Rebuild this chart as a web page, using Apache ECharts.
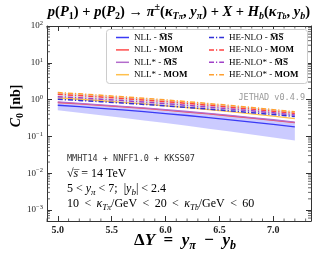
<!DOCTYPE html>
<html><head><meta charset="utf-8">
<script src="https://cdn.jsdelivr.net/npm/echarts@6/dist/echarts.min.js"></script>
<style>html,body{margin:0;padding:0;background:#fff}#c{width:322px;height:254px}</style>
</head><body><div id="c"></div>
<script>
const deltaY     = [5.0, 5.2, 5.4, 5.6, 5.8, 6.0, 6.2, 6.4, 6.6, 6.8, 7.0, 7.2];
const nllMS      = [0.700,0.640,0.579,0.522,0.469,0.417,0.369,0.324,0.282,0.245,0.211,0.181];
const nllMOM     = [0.832,0.766,0.698,0.634,0.573,0.514,0.458,0.406,0.358,0.314,0.273,0.237];
const nllStarMS  = [0.861,0.793,0.722,0.656,0.593,0.532,0.474,0.420,0.371,0.325,0.283,0.245];
const nllStarMOM = [1.112,1.021,0.929,0.841,0.759,0.678,0.604,0.532,0.468,0.408,0.354,0.305];
const heMS       = [1.019,0.948,0.875,0.805,0.740,0.673,0.611,0.550,0.493,0.441,0.391,0.345];
const heMOM      = [1.390,1.282,1.175,1.074,0.975,0.879,0.789,0.703,0.622,0.550,0.482,0.421];
const heStarMS   = [1.202,1.114,1.023,0.938,0.855,0.774,0.698,0.624,0.556,0.493,0.435,0.381];
const heStarMOM  = [1.549,1.429,1.309,1.194,1.084,0.977,0.877,0.780,0.690,0.610,0.533,0.466];
const bandLow    = [0.513,0.440,0.376,0.320,0.271,0.229,0.193,0.162,0.135,0.112,0.093,0.077];
const bandHigh   = [0.861,0.793,0.722,0.656,0.593,0.532,0.474,0.420,0.371,0.325,0.283,0.245];
const xTickLabels = [5.0, 5.5, 6.0, 6.5, 7.0];
const yTickLabels = [0.001, 0.01, 0.1, 1, 10, 100];
const seriesNames = ['NLL - MS', 'NLL - MOM', 'NLL* - MS', 'NLL* - MOM', 'HE-NLO - MS', 'HE-NLO - MOM', 'HE-NLO* - MS', 'HE-NLO* - MOM'];

const X_MIN = 4.9, X_MAX = 7.35, Y_MIN = 5e-4, Y_MAX = 100;
const SERIF = 'Liberation Serif';
const MONO = 'DejaVu Sans Mono';
const COLORS = ['#3a3af5', '#ff4d4d', '#b36ccc', '#ffc04d', '#3030d8', '#ff4040', '#a040c8', '#ffa030'];
const DASH = [5, 2, 1.2, 2];

const zip = (xs, ys) => xs.map((x, i) => [x, ys[i]]);

const yMinor = [];
for (let e = -4; e <= 1; e++) for (let k = 2; k <= 9; k++) { const v = k * Math.pow(10, e); if (v > Y_MIN && v < Y_MAX) yMinor.push(v); }
const xMinor = [];
for (let i = 49; i <= 73; i++) { if (i % 5 !== 0) xMinor.push(i / 10); }

function bandSeries(lo, hi, fill) {
  return {
    type: 'custom', silent: true, z: 1, data: [[deltaY[0], lo[0]]],
    renderItem(params, api) {
      const pts = [];
      deltaY.forEach((x, i) => pts.push(api.coord([x, hi[i]])));
      for (let i = deltaY.length - 1; i >= 0; i--) pts.push(api.coord([deltaY[i], lo[i]]));
      return { type: 'polygon', shape: { points: pts }, style: { fill: fill } };
    }
  };
}
function lineSeries(idx, ys) {
  const dashed = idx >= 4, color = COLORS[idx];
  return {
    name: seriesNames[idx], type: 'line', data: zip(deltaY, ys), symbol: 'none', z: dashed ? 4 : 3,
    lineStyle: { color, width: dashed ? 1.5 : 1.3, type: dashed ? DASH : 'solid' },
    itemStyle: { color }, silent: true
  };
}

const legRich = {
  n: { fontFamily: SERIF, fontSize: 9, color: '#333' },
  b: { fontFamily: SERIF, fontSize: 9, fontWeight: 'bold', color: '#333' }
};
function legendLabel(name) {
  const [a, b] = name.split(' - ');
  return '{n|' + a + ' - }{b|' + (b === 'MS' ? 'M\u0305S\u0305' : b) + '}';
}
const legendGraphics = [];
seriesNames.forEach((nm, i) => {
  const col = Math.floor(i / 4), row = i % 4;
  const lx = col === 0 ? 116 : 209, lw = col === 0 ? 13 : 15;
  const y = 37.5 + row * 12.4;
  legendGraphics.push({ type: 'line', z: 11, shape: { x1: lx, y1: y, x2: lx + lw, y2: y },
    style: { stroke: COLORS[i], lineWidth: 1.5, lineDash: i >= 4 ? DASH : null } });
  legendGraphics.push({ type: 'text', z: 11, x: lx + lw + 5, y: y,
    style: { text: legendLabel(nm), rich: legRich, align: 'left', verticalAlign: 'middle' } });
});

function mathRich(sz) {
  const sub = Math.round(sz * 0.68);
  return {
    i: { fontFamily: SERIF, fontStyle: 'italic', fontWeight: 'bold', fontSize: sz, lineHeight: sz + 4, color: '#111' },
    r: { fontFamily: SERIF, fontWeight: 'bold', fontSize: sz, lineHeight: sz + 4, color: '#111' },
    s: { fontFamily: SERIF, fontStyle: 'italic', fontWeight: 'bold', fontSize: sub, lineHeight: sub + 2, verticalAlign: 'bottom', color: '#111' },
    sr: { fontFamily: SERIF, fontWeight: 'bold', fontSize: sub, lineHeight: sub + 2, verticalAlign: 'bottom', color: '#111' },
    ss: { fontFamily: SERIF, fontStyle: 'italic', fontWeight: 'bold', fontSize: sub - 2, lineHeight: 4, verticalAlign: 'bottom', color: '#111' },
    p: { fontFamily: SERIF, fontWeight: 'bold', fontSize: sub, lineHeight: sub, verticalAlign: 'top', color: '#111' }
  };
}
function annRich(sz) {
  const sub = Math.round(sz * 0.72);
  return {
    i: { fontFamily: SERIF, fontStyle: 'italic', fontSize: sz, lineHeight: sz + 4, color: '#222' },
    r: { fontFamily: SERIF, fontSize: sz, lineHeight: sz + 4, color: '#222' },
    s: { fontFamily: SERIF, fontStyle: 'italic', fontSize: sub, lineHeight: sub + 2, verticalAlign: 'bottom', color: '#222' },
    ss: { fontFamily: SERIF, fontStyle: 'italic', fontSize: sub - 1.5, lineHeight: 3, verticalAlign: 'bottom', color: '#222' }
  };
}

const titleText = '{i|p}{r|(}{i|P}{sr|1}{r|) + }{i|p}{r|(}{i|P}{sr|2}{r|) \u2192 }{i|\u03c0}{p|\u00b1}{r|(}{i|\u03ba}{s|T}{ss|\u03c0}{r|, }{i|y}{s|\u03c0}{r|) + }{i|X}{r| + }{i|H}{s|b}{r|(}{i|\u03ba}{s|T}{ss|b}{r|, }{i|y}{s|b}{r|)}';
const T = '\u2009';
const tickStyle = { show: true, inside: true, length: 5, lineStyle: { color: '#333', width: 1 } };
const lineAx = { show: true, lineStyle: { color: '#333', width: 1 } };

const option = {
  animation: false,
  backgroundColor: '#fff',
  grid: { left: 47, right: 11, top: 26, bottom: 33, containLabel: false },
  xAxis: [
    { type: 'value', min: X_MIN, max: X_MAX, position: 'bottom', axisLine: lineAx,
      axisTick: Object.assign({ customValues: xTickLabels }, tickStyle),
      axisLabel: { customValues: xTickLabels, formatter: v => v.toFixed(1), fontFamily: SERIF, fontWeight: 'bold', fontSize: 10, color: '#222', margin: 4 },
      splitLine: { show: false } },
    { type: 'value', min: X_MIN, max: X_MAX, position: 'top', axisLine: lineAx,
      axisTick: Object.assign({ customValues: xTickLabels }, tickStyle),
      axisLabel: { show: false }, splitLine: { show: false } }
  ],
  yAxis: [
    { type: 'log', logBase: 10, min: Y_MIN, max: Y_MAX, position: 'left', axisLine: lineAx,
      axisTick: Object.assign({ customValues: yTickLabels }, tickStyle),
      axisLabel: { customValues: yTickLabels, margin: 4,
        formatter: v => { const e = Math.round(Math.log10(v)); return '{b|10}{s|' + (e < 0 ? '\u2212' + (-e) : e) + '}'; },
        rich: { b: { fontFamily: SERIF, fontSize: 9, lineHeight: 12, color: '#222' },
                s: { fontFamily: SERIF, fontSize: 6.5, lineHeight: 5, verticalAlign: 'top', color: '#222' } } },
      splitLine: { show: false } },
    { type: 'log', logBase: 10, min: Y_MIN, max: Y_MAX, position: 'right', axisLine: lineAx,
      axisTick: Object.assign({ customValues: yTickLabels }, tickStyle),
      axisLabel: { show: false }, splitLine: { show: false } }
  ],
  graphic: [
    { type: 'rect', z: 5, shape: { x: 106.5, y: 29.5, width: 201, height: 54, r: 3 }, style: { fill: '#fff', stroke: '#ccc', lineWidth: 1 } },
    ...legendGraphics,
    { type: 'text', z: 10, x: 179, y: 12, style: { text: titleText, rich: mathRich(14.5), align: 'center', verticalAlign: 'middle' } },
    { type: 'text', z: 10, x: 16, y: 106, rotation: Math.PI / 2, style: { text: '{i|C}{sr|0}{r| [nb]}', rich: mathRich(14), align: 'center', verticalAlign: 'middle' } },
    { type: 'text', z: 10, x: 185, y: 241, style: { text: '{r|\u0394}{i|Y}{r|  =  }{i|y}{s|\u03c0}{r|  \u2212  }{i|y}{s|b}', rich: mathRich(17), align: 'center', verticalAlign: 'middle' } },
    { type: 'text', z: 10, x: 305, y: 98, style: { text: 'JETHAD v0.4.9', font: '8.5px ' + MONO, fill: '#999', align: 'right', verticalAlign: 'middle' } },
    { type: 'text', z: 10, x: 67, y: 159, style: { text: 'MMHT14 + NNFF1.0 + KKSS07', font: '8.5px ' + MONO, fill: '#333', align: 'left', verticalAlign: 'middle' } },
    { type: 'text', z: 10, x: 67, y: 174, style: { text: '{r|\u221a}{i|s\u0305}{r| = 14 TeV}', rich: annRich(12), align: 'left', verticalAlign: 'middle' } },
    { type: 'text', z: 10, x: 67, y: 189, style: { text: '{r|5 < }{i|y}{s|\u03c0}{r| < 7;  |}{i|y}{s|b}{r|| < 2.4}', rich: annRich(12), align: 'left', verticalAlign: 'middle' } },
    { type: 'text', z: 10, x: 67, y: 204, style: { text: '{r|10' + T + ' < ' + T + '}{i|\u03ba}{s|T}{ss|\u03c0}{r|/GeV' + T + ' < ' + T + '20' + T + ' < ' + T + '}{i|\u03ba}{s|T}{ss|b}{r|/GeV' + T + ' < ' + T + '60}', rich: annRich(12), align: 'left', verticalAlign: 'middle' } }
  ],
  series: [
    bandSeries(bandLow, bandHigh, 'rgba(70,70,255,0.28)'),
    bandSeries(heMS, heStarMOM, 'rgba(170,170,170,0.28)'),
    lineSeries(0, nllMS), lineSeries(1, nllMOM), lineSeries(2, nllStarMS), lineSeries(3, nllStarMOM),
    lineSeries(4, heMS), lineSeries(5, heMOM), lineSeries(6, heStarMS), lineSeries(7, heStarMOM),
    { type: 'custom', silent: true, z: 8, clip: false, data: [[X_MIN, 1]],
      renderItem(params, api) {
        const ch = [];
        const add = (p, dx, dy) => ch.push({ type: 'line', shape: { x1: p[0], y1: p[1], x2: p[0] + dx, y2: p[1] + dy }, style: { stroke: '#444', lineWidth: 0.8 } });
        yMinor.forEach(v => { add(api.coord([X_MIN, v]), 3, 0); add(api.coord([X_MAX, v]), -3, 0); });
        xMinor.forEach(v => { add(api.coord([v, Y_MIN]), 0, -2.5); add(api.coord([v, Y_MAX]), 0, 2.5); });
        return { type: 'group', children: ch };
      } }
  ]
};
const chart = echarts.init(document.getElementById('c'), null, { renderer: 'canvas' });
chart.setOption(option);
</script></body></html>
